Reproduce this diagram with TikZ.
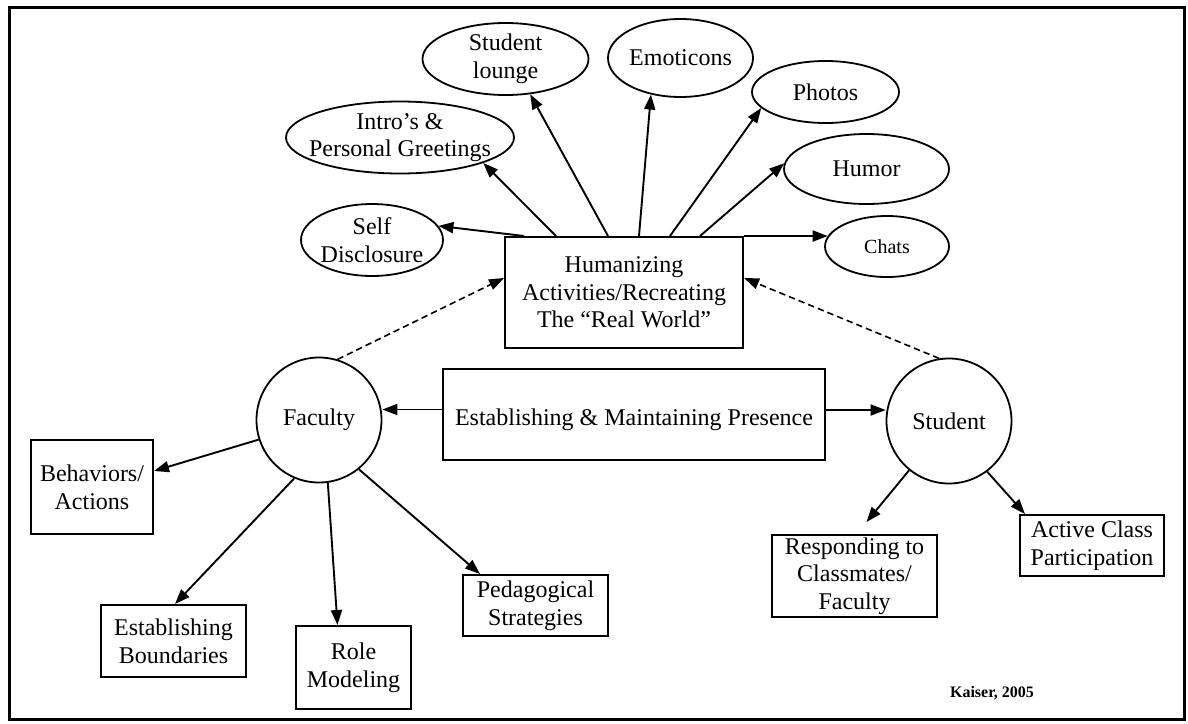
\documentclass[tikz,border=0pt]{standalone}
\usepackage{fontspec}
\setmainfont{Liberation Serif}
\usetikzlibrary{shapes.geometric,arrows.meta}

\begin{document}
\begin{tikzpicture}[x=0.5pt,y=-0.5pt,
  every node/.style={font=\fontsize{12pt}{13.8pt}\selectfont},
  box/.style={draw,line width=1pt,rectangle,align=center,inner sep=1pt},
  oval/.style={draw,line width=0.9pt,ellipse,inner sep=0pt},
  disc/.style={draw,line width=0.9pt,circle,inner sep=0pt,minimum size=62.5pt},
  lbl/.style={align=center,inner sep=0pt},
  arr/.style={line width=0.95pt,-{Triangle[length=7.5pt,width=5.5pt]}},
  darr/.style={arr,line width=0.8pt,dash pattern=on 3.2pt off 2pt}
]
\useasboundingbox (0,0) rectangle (1188,723);

% outer frame
\draw[line width=1.5pt] (9,7) rectangle (1184,719);

% central boxes
\node[box,minimum width=119pt,minimum height=55.5pt] (hum) at (624,292.5)
  {Humanizing\\Activities/Recreating\\The “Real World”};
\node[box,minimum width=191pt,minimum height=45.5pt,text height=14pt,text depth=2.6pt] (pres) at (634,414.5)
  {Establishing \& Maintaining Presence};

% actors
\node[disc] (fac) at (319,420) {Faculty};
\node[disc] (stu) at (949,421) {Student};

% humanizing activities
\node[oval,minimum width=71pt,minimum height=36pt] (self) at (372,240) {};
\node[lbl] (self-t) at (self) {Self\\Disclosure};
\node[oval,minimum width=114pt,minimum height=36pt] (intro) at (400,137.5) {};
\node[lbl] (intro-t) at (intro) {Intro’s \&\\Personal Greetings};
\node[oval,minimum width=83pt,minimum height=36pt] (lounge) at (505.5,59) {};
\node[lbl] (lounge-t) at (lounge) {Student\\lounge};
\node[oval,minimum width=72.5pt,minimum height=39pt] (emot) at (680.5,58) {};
\node[lbl] (emot-t) at (emot) {Emoticons};
\node[oval,minimum width=73.5pt,minimum height=31pt] (photos) at (825.5,92) {};
\node[lbl] (photos-t) at (photos) {Photos};
\node[oval,minimum width=82.5pt,minimum height=35pt] (humor) at (866.5,169) {};
\node[lbl] (humor-t) at (humor) {Humor};
\node[oval,minimum width=62pt,minimum height=30.5pt] (chats) at (887,246.5) {};
\node[lbl,font=\fontsize{10pt}{12pt}\selectfont] (chats-t) at (chats) {Chats};

% faculty side
\node[box,minimum width=61pt,minimum height=47pt] (beh) at (92,487) {Behaviors/\\Actions};
\node[box,minimum width=72.5pt,minimum height=36pt] (bnd) at (173.5,641) {Establishing\\Boundaries};
\node[box,minimum width=57.5pt,minimum height=41.5pt] (role) at (353.5,667.5) {Role\\Modeling};
\node[box,minimum width=72.5pt,minimum height=30.5pt] (ped) at (535.5,605.5) {Pedagogical\\Strategies};

% student side
\node[box,minimum width=82.5pt,minimum height=41pt] (resp) at (854.5,576) {Responding to\\Classmates/\\Faculty};
\node[box,minimum width=72pt,minimum height=30.5pt] (act) at (1092,545.5) {Active Class\\Participation};

% source note
\node[font=\bfseries\fontsize{8pt}{9pt}\selectfont] (src) at (992,693) {Kaiser, 2005};

% connectors: humanizing activities
\draw[arr] ([xshift=10pt]hum.north west) -- (self.12);
\draw[arr] ([xshift=26pt]hum.north west) -- (intro.-17);
\draw[arr] ([xshift=52pt]hum.north west) -- (lounge.-55);
\draw[arr] ([xshift=67.5pt]hum.north west) -- (emot.231);
\draw[arr] ([xshift=83pt]hum.north west) -- (photos.194);
\draw[arr] ([xshift=98pt]hum.north west) -- (humor.176);
\draw[arr] (hum.north east) -- (chats.170);

% dashed links to the humanizing box
\draw[darr] (fac.73.6) -- ([yshift=7.25pt]hum.west);
\draw[darr] (stu.99) -- ([yshift=7.25pt]hum.east);

% presence to actors
\path ([yshift=2.5pt]pres.west) coordinate (pw)
      ([yshift=2.25pt]pres.east) coordinate (pe);
\draw[arr] (pw) -- (pw -| fac.east);
\draw[arr] (pe) -- (pe -| stu.west);

% faculty outcomes
\draw[arr] (fac.198) -- ([yshift=8pt]beh.east);
\draw[arr] (fac.247) -- ([xshift=0.75pt]bnd.north);
\draw[arr] (fac.278) -- ([xshift=-8pt]role.north);
\draw[arr] (fac.309) -- ([xshift=9pt]ped.north west);

% student outcomes
\draw[arr] (stu.231) -- ([xshift=6pt,yshift=6pt]resp.north);
\draw[arr] (stu.307) -- ([xshift=3pt]act.north west);
\end{tikzpicture}
\end{document}
